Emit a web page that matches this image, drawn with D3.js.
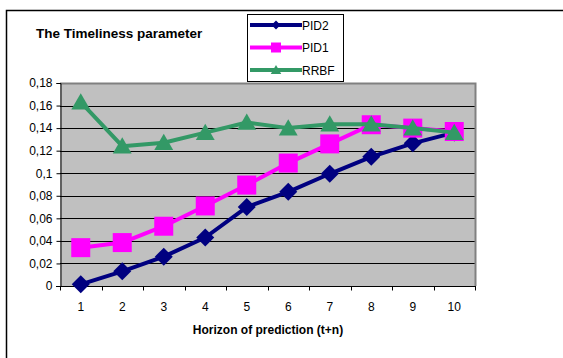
<!DOCTYPE html>
<html><head><meta charset="utf-8">
<script src="https://cdn.jsdelivr.net/npm/d3@7"></script>
<style>body{margin:0;background:#fff}svg{display:block;font-family:"Liberation Sans",Arial,sans-serif}</style>
</head><body><svg id="c" width="563" height="358"></svg>
<script>
const categories = [1,2,3,4,5,6,7,8,9,10];
const pid2 = [0.0015,0.013,0.026,0.043,0.070,0.0835,0.0995,0.1145,0.1265,0.136];
const pid1 = [0.034,0.0385,0.053,0.071,0.0895,0.109,0.126,0.143,0.140,0.137];
const rrbf = [0.163,0.124,0.127,0.136,0.145,0.140,0.1435,0.1435,0.140,0.136];
const yTicks = [0,0.02,0.04,0.06,0.08,0.1,0.12,0.14,0.16,0.18];
const seriesNames = ["PID2","PID1","RRBF"];
const seriesColors = ["#000080","#FF00FF","#339966"];

const svg = d3.select("#c");
svg.append("rect").attr("x",6.5).attr("y",10.5).attr("width",700).attr("height",500)
  .attr("fill","#fff").attr("stroke","#000").attr("stroke-width",1.5);

const L=60, R=475, T=83, B=286;
const x = d3.scaleBand().domain(categories).range([L,R]);
const y = d3.scaleLinear().domain([0,0.18]).range([B,T]);

svg.append("rect").attr("x",L).attr("y",T).attr("width",R-L).attr("height",B-T).attr("fill","#C0C0C0");
svg.append("g").selectAll("line").data(yTicks.filter(d=>d>0)).join("line")
  .attr("x1",L).attr("x2",R).attr("y1",d=>Math.round(y(d))+0.5).attr("y2",d=>Math.round(y(d))+0.5)
  .attr("stroke","#000").attr("stroke-width",1);
svg.append("path").attr("d",`M${L},${T+0.5}H${R+0.5}V${B}`).attr("fill","none").attr("stroke","#808080").attr("stroke-width",2);

const fmt = d => d3.format("")(+d.toFixed(2)).replace(".",",");
const yAxis = d3.axisLeft(y).tickValues(yTicks).tickFormat(fmt).tickSize(4).tickPadding(4);
const gy = svg.append("g").attr("transform",`translate(${L+0.5},0)`).call(yAxis);
gy.select(".domain").attr("stroke","#000");
gy.selectAll("text").attr("font-size",12).attr("fill","#000").attr("font-family","Liberation Sans, Arial, sans-serif");

const gx = svg.append("g").attr("transform",`translate(0,${B+0.5})`);
gx.append("line").attr("x1",L-4).attr("x2",R+1).attr("stroke","#000");
const bounds = categories.map(c=>x(c)).concat([R]);
gx.selectAll(".tk").data(bounds).join("line").attr("class","tk")
  .attr("x1",d=>Math.round(d)+0.5).attr("x2",d=>Math.round(d)+0.5).attr("y1",0).attr("y2",4).attr("stroke","#000");
gx.selectAll("text").data(categories).join("text")
  .attr("x",d=>x(d)+x.bandwidth()/2).attr("y",24).attr("text-anchor","middle")
  .attr("font-size",12).text(d=>d);

svg.append("text").attr("x",268).attr("y",334).attr("text-anchor","middle")
  .attr("font-size",12).attr("font-weight","bold").text("Horizon of prediction (t+n)");
svg.append("text").attr("x",36).attr("y",38).attr("font-size",13.5).attr("font-weight","bold")
  .text("The Timeliness parameter");

function marker(i, s){
  if(i===0) return `M0,${-s}L${s},0L0,${s}L${-s},0Z`;
  if(i===1) return `M${-s},${-s}H${s}V${s}H${-s}Z`;
  const h = s*1.8;
  return `M0,${-h*0.55}L${s*1.05},${h*0.45}L${-s*1.05},${h*0.45}Z`;
}
const all = [pid2,pid1,rrbf];
const cx = d => x(d)+x.bandwidth()/2;
const msz = [9, 9.5, 9];
all.forEach((vals,i)=>{
  const g = svg.append("g");
  g.append("path").datum(vals)
    .attr("d",d3.line().x((v,j)=>cx(categories[j])).y(v=>y(v)))
    .attr("fill","none").attr("stroke",seriesColors[i]).attr("stroke-width",4).attr("stroke-linejoin","round");
  g.selectAll("path.m").data(vals).join("path").attr("class","m")
    .attr("transform",(v,j)=>`translate(${cx(categories[j])},${y(v)})`)
    .attr("d",marker(i,msz[i]))
    .attr("fill",seriesColors[i]);
});

const lg = svg.append("g");
lg.append("rect").attr("x",247.5).attr("y",14.5).attr("width",96).attr("height",67)
  .attr("fill","#fff").attr("stroke","#000");
const legSz=[4.5,5,5];
seriesNames.forEach((n,i)=>{
  const yy = 25 + i*22.5;
  lg.append("line").attr("x1",250).attr("x2",302).attr("y1",yy).attr("y2",yy)
    .attr("stroke",seriesColors[i]).attr("stroke-width",4);
  lg.append("path").attr("transform",`translate(276,${yy})`)
    .attr("d",marker(i,legSz[i])).attr("fill",seriesColors[i]);
  lg.append("text").attr("x",302).attr("y",yy+4.5).attr("font-size",12).text(n);
});
</script></body></html>
